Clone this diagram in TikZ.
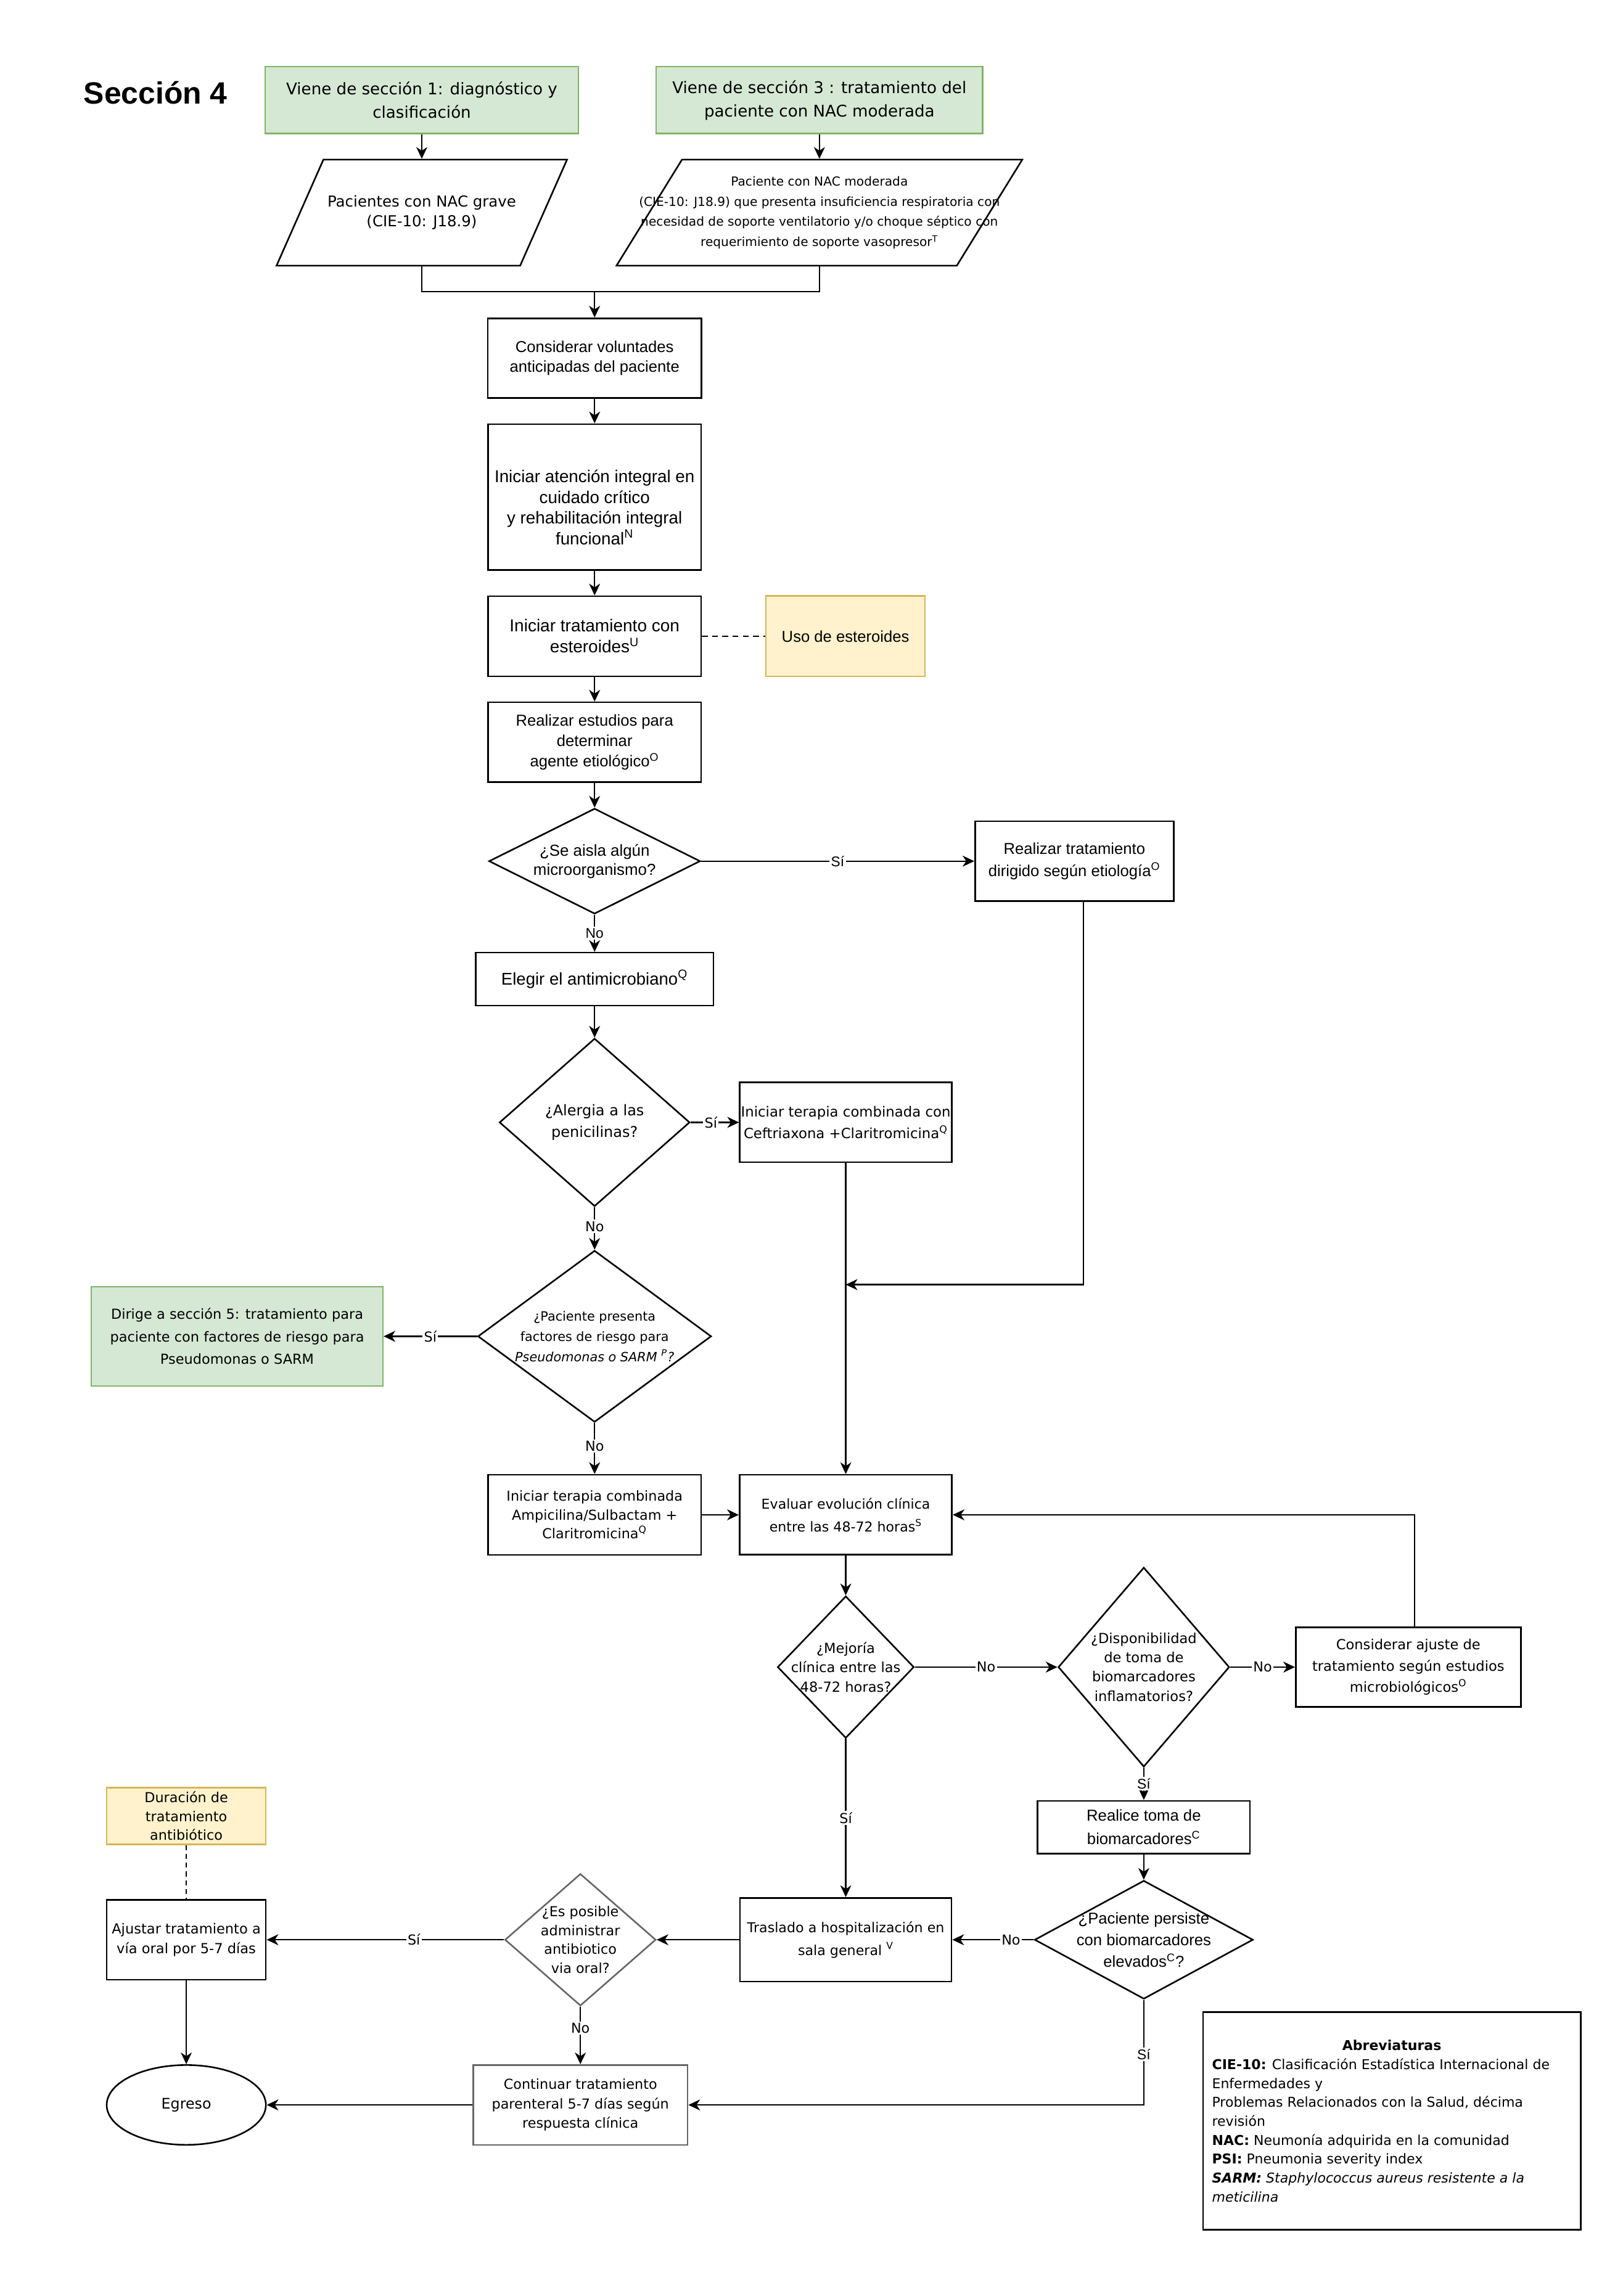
\documentclass[tikz,border=0pt]{standalone}
\usepackage{fontspec}
\setmainfont{Liberation Sans}
\newfontfamily\vfont{DejaVu Sans}
\usepackage{tikz}
\usetikzlibrary{shapes.geometric,arrows.meta}
\definecolor{verdeF}{HTML}{D5E8D4}
\definecolor{verdeL}{HTML}{82B366}
\definecolor{amarF}{HTML}{FFF2CC}
\definecolor{amarL}{HTML}{D6B656}
\definecolor{grisL}{HTML}{666666}
\newcommand{\fsz}[2]{\fontsize{#1}{#2}\selectfont}

\begin{document}
\begin{tikzpicture}[x=1pt,y=-1pt]
    \tikzset{
    nac box/.style={rectangle,draw,line width=1.1pt,inner sep=0,align=center},
    nac dec/.style={diamond,draw,line width=1.1pt,inner sep=0.5pt},
    nac par/.style={trapezium,draw,line width=1.1pt,inner sep=0.5pt,trapezium left angle=76.6,trapezium right angle=103.4,trapezium stretches=true},
    nac txt/.style={inner sep=0,align=center},
    nac lbl/.style={fill=white,inner sep=1pt,font=\vfont\fsz{9.4}{11}},
    nac lblA/.style={fill=white,inner sep=1pt,font=\fsz{9.6}{11}},
    nac edge/.style={-{Stealth[length=8pt,width=7.5pt,inset=2.5pt]},line width=1pt},
    nac line/.style={line width=1pt},
    verde/.style={fill=verdeF,draw=verdeL,line width=1pt},
    amarillo/.style={fill=amarF,draw=amarL,line width=1pt}
    }
    \useasboundingbox (0,0) rectangle (1108,1568);

    \node[anchor=base west,inner sep=0,font=\bfseries\fsz{21}{25}] (titulo) at (57,70.9) {Sección 4};

    % entradas
    \node[nac box,verde,minimum width=214pt,minimum height=45.6pt,font=\vfont\fsz{11}{15.9}] (viene1) at (288,68.4) {Viene de sección 1: diagnóstico y\\clasificación};
    \node[nac box,verde,minimum width=223pt,minimum height=45.6pt,font=\vfont\fsz{11}{15.9}] (viene3) at (559.5,68.4) {Viene de sección 3 : tratamiento del\\paciente con NAC moderada};
    \node[nac par,minimum width=198.3pt,minimum height=72.4pt] (grave) at (288,145.2) {};
    \node[nac txt,font=\vfont\fsz{10.3}{13.5}] (graveT) at (grave) {Pacientes con NAC grave\\(CIE-10: J18.9)};
    \node[nac par,minimum width=277pt,minimum height=72.4pt] (moderada) at (559.5,145.2) {};
    \node[nac txt,font=\vfont\fsz{8.5}{13.8}] (moderadaT) at (moderada) {Paciente con NAC moderada\\(CIE-10: J18.9) que presenta insuficiencia respiratoria con\\necesidad de soporte ventilatorio y/o choque séptico con\\requerimiento de soporte vasopresor\textsuperscript{T}};
    \coordinate (junta) at (406,199.2);

    % columna central
    \node[nac box,minimum width=146pt,minimum height=54.5pt,font=\fsz{10.8}{13.6}] (voluntades) at (406,244.6) {Considerar voluntades\\anticipadas del paciente};
    \node[nac box,minimum width=145.3pt,minimum height=99.7pt,font=\fsz{11.7}{14.1}] (atencion) at (406,339.5) {\mbox{}\\[8.4pt]Iniciar atención integral en\\cuidado crítico\\y rehabilitación integral\\funcional\textsuperscript{N}};
    \node[nac box,minimum width=145.3pt,minimum height=54.7pt,font=\fsz{11.8}{14.3}] (esteroides) at (406,434.5) {Iniciar tratamiento con\\esteroides\textsuperscript{U}};
    \node[nac box,amarillo,minimum width=108.8pt,minimum height=55pt,font=\fsz{10.8}{13}] (usoEst) at (577.3,434.5) {Uso de esteroides};
    \node[nac box,minimum width=145.3pt,minimum height=54.5pt,font=\fsz{10.8}{14}] (estudios) at (406,506.9) {Realizar estudios para\\determinar\\agente etiológico\textsuperscript{O}};
    \node[nac dec,minimum width=144.3pt,minimum height=72pt] (aisla) at (406,588.1) {};
    \node[nac txt,font=\fsz{10.9}{13}] (aislaT) at (aisla) {¿Se aisla algún\\microorganismo?};
    \node[nac box,minimum width=135.6pt,minimum height=54.5pt,font=\fsz{10.8}{15}] (dirigido) at (733.6,588.1) {Realizar tratamiento\\dirigido según etiología\textsuperscript{O}};
    \node[nac box,minimum width=162.4pt,minimum height=36.2pt,font=\fsz{11.6}{14}] (elegir) at (406,668.7) {Elegir el antimicrobiano\textsuperscript{Q}};
    \node[nac dec,minimum width=130pt,minimum height=114.7pt] (alergia) at (406,766.5) {};
    \node[nac txt,font=\vfont\fsz{10.1}{14.7}] (alergiaT) at (alergia) {¿Alergia a las\\penicilinas?};
    \node[nac box,minimum width=144.7pt,minimum height=54.5pt,font=\vfont\fsz{9.6}{14.7}] (ceftri) at (577.5,766.5) {Iniciar terapia combinada con\\Ceftriaxona +Claritromicina\textsuperscript{Q}};
    \node[nac dec,minimum width=159.4pt,minimum height=117.2pt] (pseudo) at (406,912.6) {};
    \node[nac txt,font=\vfont\fsz{8.75}{13.9}] (pseudoT) at (pseudo) {¿Paciente presenta\\factores de riesgo para\\\textit{Pseudomonas o SARM \textsuperscript{P}?}};
    \node[nac box,verde,minimum width=199.1pt,minimum height=67.6pt,font=\vfont\fsz{9.45}{15.3}] (dirige) at (161.9,912.6) {Dirige a sección 5: tratamiento para\\paciente con factores de riesgo para\\Pseudomonas o SARM};
    \coordinate (cruce) at (577.5,877.3);
    \node[nac box,minimum width=145.6pt,minimum height=54.7pt,font=\vfont\fsz{9.4}{12.8}] (ampi) at (406,1034.5) {Iniciar terapia combinada\\Ampicilina/Sulbactam +\\Claritromicina\textsuperscript{Q}};
    \node[nac box,minimum width=145pt,minimum height=54.6pt,font=\vfont\fsz{9.3}{15.7}] (evaluar) at (577.5,1034.5) {Evaluar evolución clínica\\entre las 48-72 horas\textsuperscript{S}};

    % evolucion
    \node[nac dec,minimum width=93.2pt,minimum height=97pt] (mejoria) at (577.5,1138.5) {};
    \node[nac txt,font=\vfont\fsz{9.5}{13.4}] (mejoriaT) at (mejoria) {¿Mejoría\\clínica entre las\\48-72 horas?};
    \node[nac dec,minimum width=116.9pt,minimum height=136.2pt] (dispon) at (781,1138.5) {};
    \node[nac txt,font=\vfont\fsz{9.5}{13.1}] (disponT) at (dispon) {¿Disponibilidad\\de toma de\\biomarcadores\\inflamatorios?};
    \node[nac box,minimum width=153.7pt,minimum height=54.5pt,font=\vfont\fsz{9.5}{14.6}] (ajuste) at (961.6,1138.5) {Considerar ajuste de\\tratamiento según estudios\\microbiológicos\textsuperscript{O}};
    \node[nac box,minimum width=145pt,minimum height=36pt,font=\fsz{10.8}{15.8}] (realice) at (781,1247.8) {Realice toma de\\biomarcadores\textsuperscript{C}};
    \node[nac dec,minimum width=149.2pt,minimum height=80.9pt] (persiste) at (781,1324.7) {};
    \node[nac txt,font=\fsz{10.8}{14.8}] (persisteT) at (persiste) {¿Paciente persiste\\con biomarcadores\\elevados\textsuperscript{C}?};
    \node[nac box,minimum width=144.4pt,minimum height=57.2pt,font=\vfont\fsz{9.34}{15.4}] (traslado) at (577.5,1324.7) {Traslado a hospitalización en\\sala general \textsuperscript{V}};
    \node[nac dec,draw=grisL,minimum width=103.1pt,minimum height=90.2pt] (posible) at (396.3,1324.7) {};
    \node[nac txt,font=\vfont\fsz{9.4}{13}] (posibleT) at (posible) {¿Es posible\\administrar\\antibiotico\\via oral?};
    \node[nac box,minimum width=108.7pt,minimum height=54.6pt,font=\vfont\fsz{9.5}{13.2}] (ajustar) at (127.2,1324.7) {Ajustar tratamiento a\\vía oral por 5-7 días};
    \node[nac box,amarillo,minimum width=108.7pt,minimum height=38.7pt,font=\vfont\fsz{9.4}{12.9}] (duracion) at (127.2,1240.2) {Duración de\\tratamiento\\antibiótico};
    \node[ellipse,draw,line width=1.1pt,inner sep=0,minimum width=108.7pt,minimum height=54.5pt,font=\vfont\fsz{10}{12}] (egreso) at (127.2,1437.5) {Egreso};
    \node[nac box,draw=grisL,minimum width=146.4pt,minimum height=54.5pt,font=\vfont\fsz{9.4}{13.2}] (continuar) at (396.3,1437.5) {Continuar tratamiento\\parenteral 5-7 días según\\respuesta clínica};

    % abreviaturas
    \node[nac box,minimum width=257.9pt,minimum height=148.6pt,font=\vfont\fsz{9.28}{12.9},align=left] (abrev) at (950.35,1448.5) {\makebox[245.5pt][c]{\textbf{Abreviaturas}}\\
      \textbf{CIE-10:} Clasificación Estadística Internacional de\\
      Enfermedades y\\
      Problemas Relacionados con la Salud, décima\\
      revisión\\
      \textbf{NAC:} Neumonía adquirida en la comunidad\\
      \textbf{PSI:} Pneumonia severity index\\
      \textit{\textbf{SARM:} Staphylococcus aureus resistente a la}\\
      \textit{meticilina}};

    % conectores
    \path[nac edge]
    (viene1.south) edge (grave.north)
    (viene3.south) edge (moderada.north)
    (junta) edge (voluntades.north)
    (voluntades.south) edge (atencion.north)
    (atencion.south) edge (esteroides.north)
    (esteroides.south) edge (estudios.north)
    (estudios.south) edge (aisla.north)
    (aisla.east) edge node[nac lblA] (siAisla) {Sí} (dirigido.west)
    (aisla.south) edge node[nac lblA] (noAisla) {No} (elegir.north)
    (elegir.south) edge (alergia.north)
    (alergia.east) edge node[nac lbl,pos=0.42] (siAlergia) {Sí} (ceftri.west)
    (alergia.south) edge node[nac lbl,pos=0.45] (noAlergia) {No} (pseudo.north)
    (pseudo.west) edge node[nac lbl] (siPseudo) {Sí} (dirige.east)
    (pseudo.south) edge node[nac lbl,pos=0.45] (noPseudo) {No} (ampi.north)
    (ceftri.south) edge (evaluar.north)
    (ampi.east) edge (evaluar.west)
    (evaluar.south) edge (mejoria.north)
    (mejoria.east) edge node[nac lbl] (noMejoria) {No} (dispon.west)
    (dispon.east) edge node[nac lbl] (noDispon) {No} (ajuste.west)
    (dispon.south) edge node[nac lblA] (siDispon) {Sí} (realice.north)
    (realice.south) edge (persiste.north)
    (mejoria.south) edge node[nac lbl] (siMejoria) {Sí} (traslado.north)
    (persiste.west) edge node[nac lbl,pos=0.28] (noPersiste) {No} (traslado.east)
    (traslado.west) edge (posible.east)
    (posible.west) edge node[nac lbl,pos=0.38] (siPosible) {Sí} (ajustar.east)
    (posible.south) edge node[nac lbl,pos=0.37] (noPosible) {No} (continuar.north)
    (continuar.west) edge (egreso.east)
    (ajustar.south) edge (egreso.north)
    ;
    \draw[nac line] (grave.south) -- (grave.south |- junta) -- (moderada.south |- junta) -- (moderada.south);
    \draw[nac edge] ([xshift=6.3pt]dirigido.south) |- (cruce);
    \draw[nac edge] ([xshift=4.4pt]ajuste.north) |- (evaluar.east);
    \draw[nac edge] (persiste.south) |- node[nac lblA,pos=0.26] (siPersiste) {Sí} (continuar.east);
    \draw[nac line,dash pattern=on 4pt off 3pt] (esteroides.east) -- (usoEst.west);
    \draw[nac line,dash pattern=on 3.5pt off 2.5pt] (duracion.south) -- (ajustar.north);
\end{tikzpicture}
\end{document}
